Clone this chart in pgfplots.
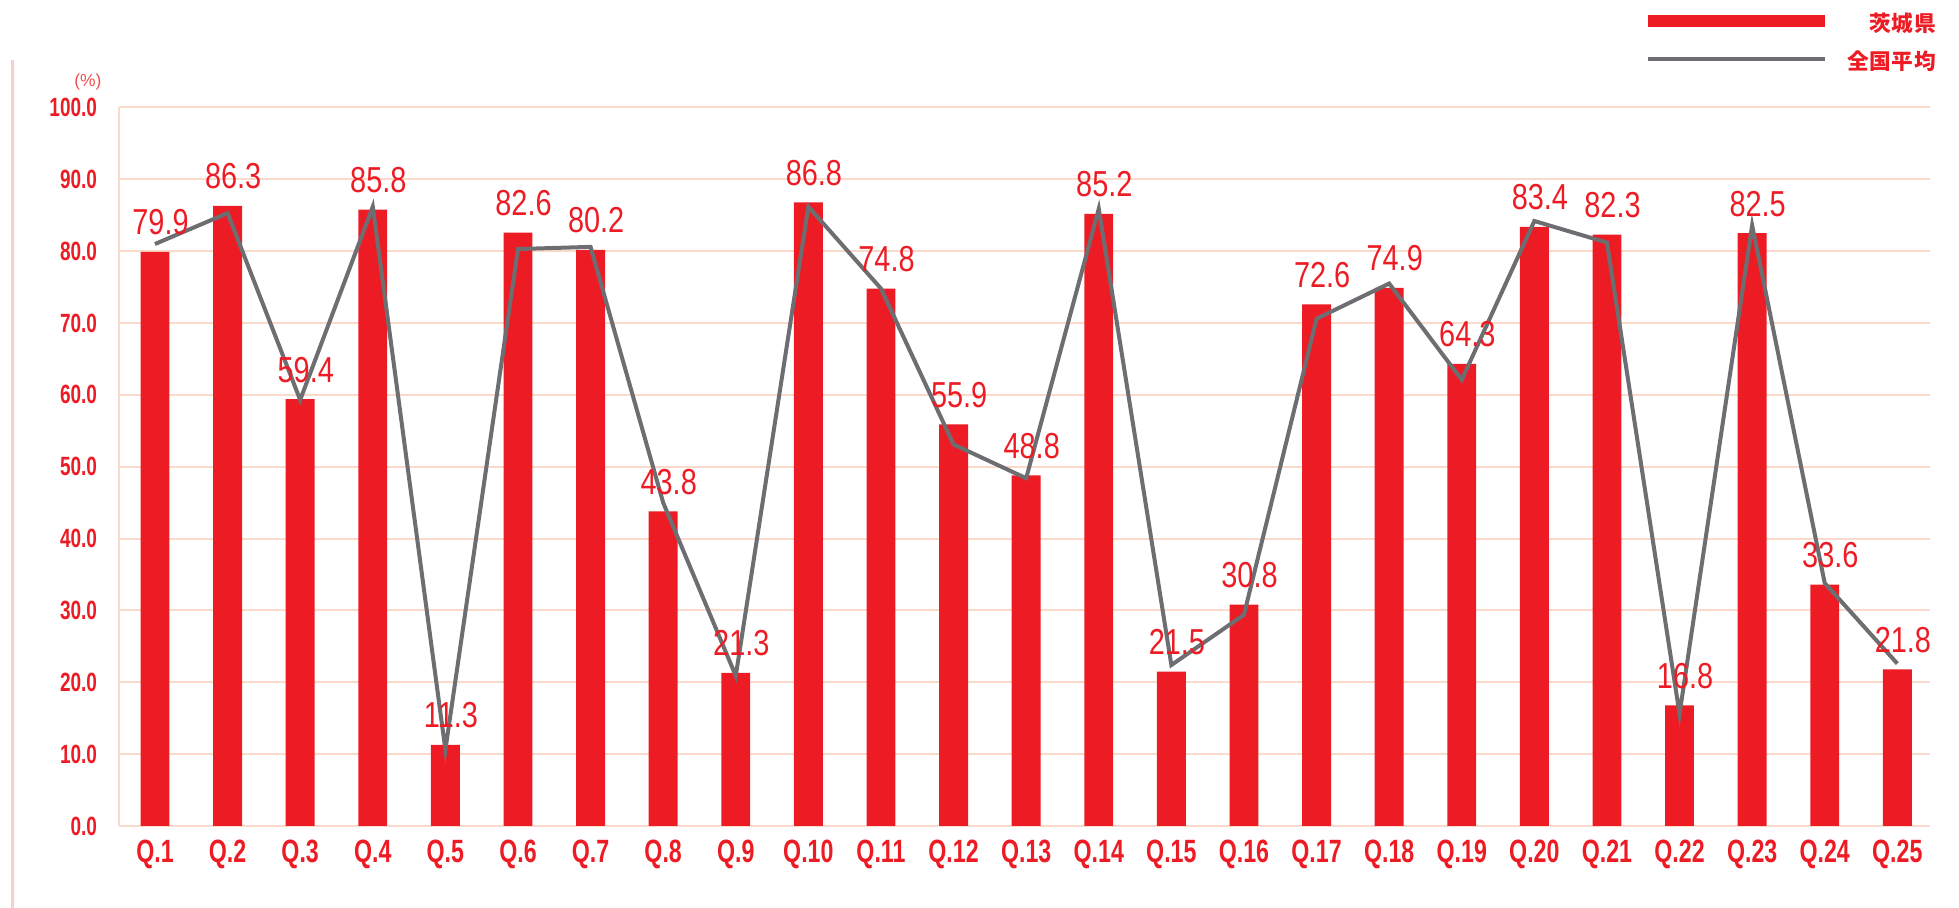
\documentclass[border=0pt]{standalone}
\usepackage{pgfplots}
\pgfplotsset{compat=1.18}
\usepackage{pgfplotstable}
\usepackage{fontspec}
\setmainfont{Liberation Sans}
\newfontfamily\numfont[FakeStretch=0.72]{Liberation Sans}
\newfontfamily\lblfont[FakeStretch=0.8]{Liberation Sans}
\newfontfamily\cjkfont[LetterSpace=3]{Noto Sans CJK JP}
\definecolor{barred}{HTML}{ED1C24}
\definecolor{linegray}{HTML}{6D6E71}
\definecolor{gridc}{HTML}{FBDACB}
\definecolor{leftline}{HTML}{F6CFCF}
\definecolor{pctred}{HTML}{F05050}

\pgfplotstableread{
x ibaraki national
0  79.9 81.0
1  86.3 85.3
2  59.4 59.3
3  85.8 86.2
4  11.3 10.6
5  82.6 80.3
6  80.2 80.6
7  43.8 45.0
8  21.3 20.9
9  86.8 86.2
10 74.8 74.8
11 55.9 53.1
12 48.8 48.4
13 85.2 85.9
14 21.5 22.4
15 30.8 29.4
16 72.6 70.6
17 74.9 75.5
18 64.3 62.1
19 83.4 84.2
20 82.3 81.2
21 16.8 15.6
22 82.5 83.6
23 33.6 33.8
24 21.8 22.6
}\datatable

\begin{document}
\begin{tikzpicture}
\path[use as bounding box] (0pt,0pt) rectangle (705.24pt,326.88pt);
\draw[leftline, line width=0.95pt] (4.5pt,0pt) -- (4.5pt,305.3pt);
\begin{axis}[
  at={(42.73pt,29.52pt)}, anchor=south west,
  scale only axis, width=652.07pt, height=258.66pt,
  xmin=-0.5, xmax=24.45, ymin=0, ymax=100,
  ytick={0,10,...,100},
  xtick={0,...,24},
  xticklabels={Q.1,Q.2,Q.3,Q.4,Q.5,Q.6,Q.7,Q.8,Q.9,Q.10,Q.11,Q.12,Q.13,Q.14,Q.15,Q.16,Q.17,Q.18,Q.19,Q.20,Q.21,Q.22,Q.23,Q.24,Q.25},
  ymajorgrids,
  grid style={color=gridc, line width=0.72pt},
  axis x line*=bottom, axis y line*=left,
  axis line style={color=gridc, line width=0.72pt, -},
  major tick length=0pt,
  /pgf/number format/assume math mode=true,
  yticklabel style={/pgf/number format/.cd, fixed, zerofill, precision=1, /tikz/.cd,
    font=\numfont\bfseries\fontsize{9.5}{10}\selectfont, text=barred,
    anchor=east, inner sep=0pt, xshift=-7.6pt},
  xticklabel style={font=\numfont\bfseries\fontsize{11.6}{12}\selectfont, text=barred,
    anchor=north, inner sep=0pt, yshift=-5pt},
  ylabel={(\%)},
  ylabel style={at={(axis description cs:-0.017,1.036)}, rotate=-90, anchor=center,
    font=\fontsize{6.3}{7}\selectfont, text=pctred},
  legend style={at={(rel axis cs:1.0097,1.143)}, anchor=north east, draw=none, fill=none,
    font=\cjkfont\bfseries\fontsize{7.8}{9}\selectfont, text=barred,
    nodes={inner sep=1pt, text height=6.5pt, text depth=1pt},
    row sep=4pt,
    /tikz/every odd column/.append style={column sep=6.3pt}},
  legend cell align=right,
  clip=false,
]
\addplot[ybar, bar width=10.4pt, fill=barred, draw=none,
  nodes near coords={\pgfmathprintnumber[fixed,zerofill,precision=1]{\pgfplotspointmeta}},
  every node near coord/.append style={font=\lblfont\fontsize{13}{13}\selectfont,
    text=barred, anchor=south, inner sep=0pt, yshift=5.8pt, xshift=2pt},
  legend image code/.code={\fill[barred] (0pt,-1.2pt) rectangle (63.7pt,3.1pt);}
] table[x=x, y=ibaraki] {\datatable};
\addlegendentry{茨城県}
\addplot[linegray, line width=1.44pt, line join=miter, mark=none,
  legend image code/.code={\draw[linegray, line width=1.44pt] (0pt,0.75pt) -- (63.7pt,0.75pt);}
] table[x=x, y=national] {\datatable};
\addlegendentry{全国平均}
\end{axis}
\end{tikzpicture}
\end{document}
